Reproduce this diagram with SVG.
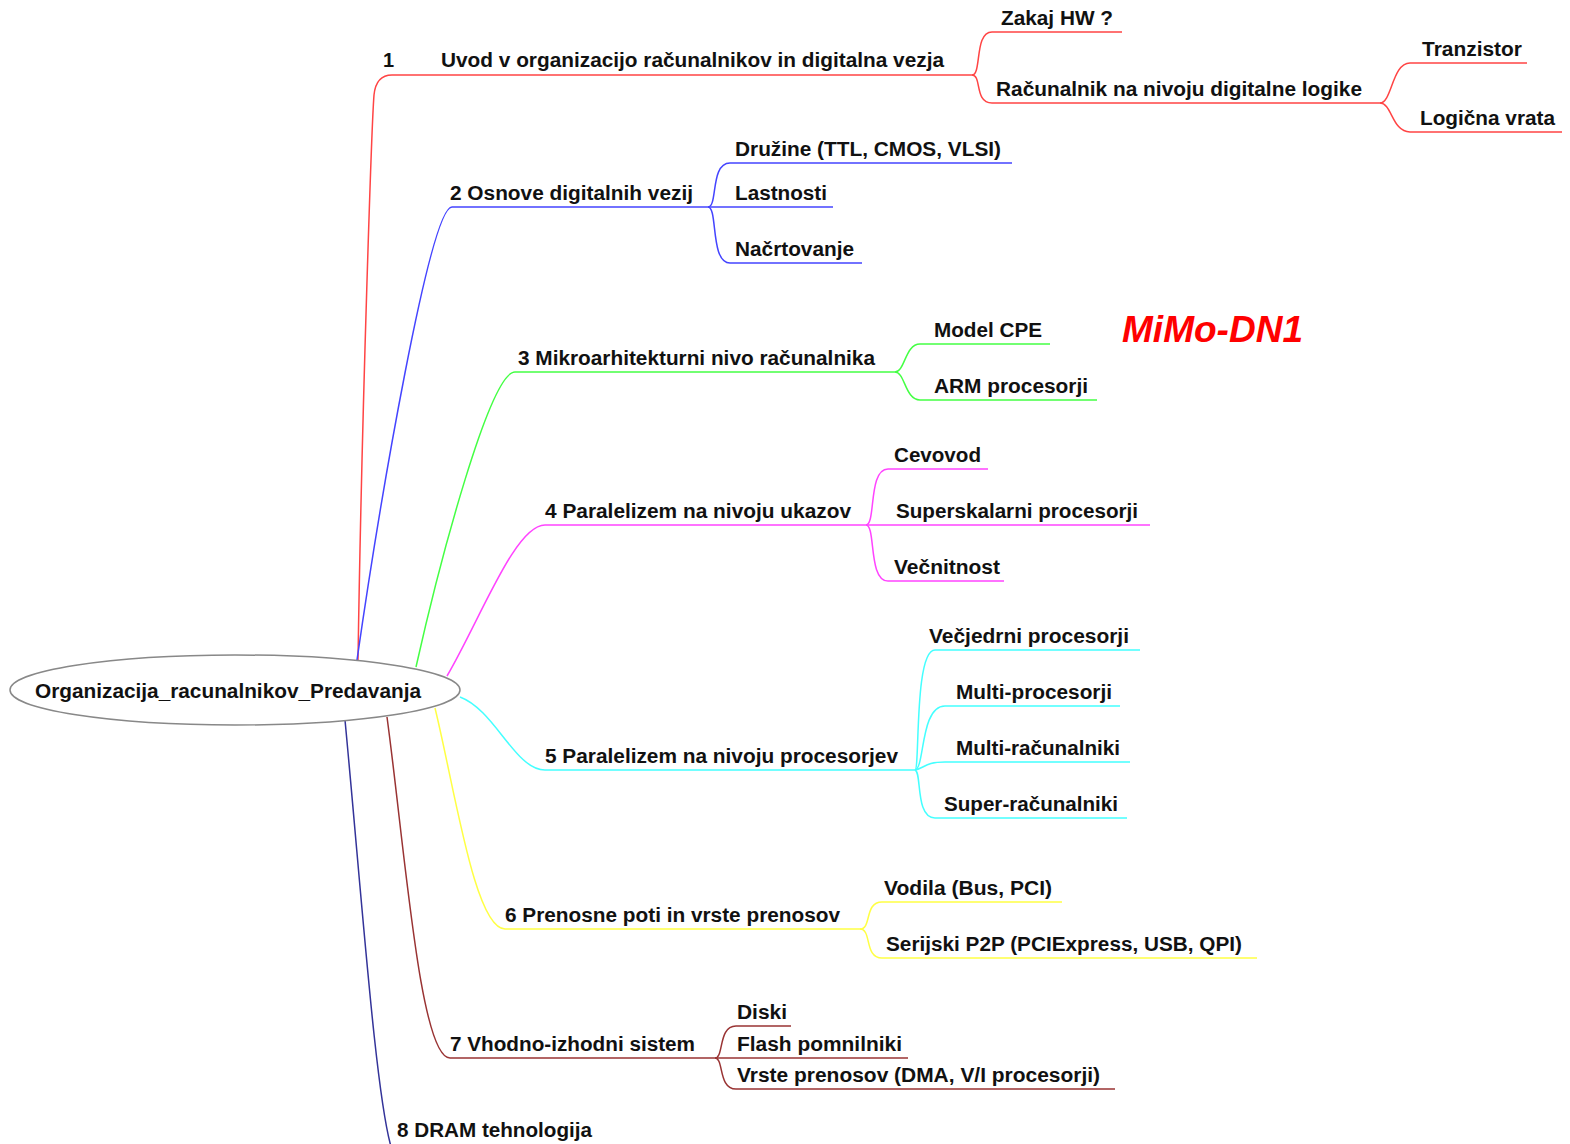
<svg xmlns="http://www.w3.org/2000/svg" width="1570" height="1144" viewBox="0 0 1570 1144">
<style>
text{font-family:"Liberation Sans",Arial,sans-serif;font-weight:bold;font-size:20px;fill:#111;}
.c path{fill:none;stroke-width:1.5;}
.r{stroke:#ff4444}.b{stroke:#4444ff}.g{stroke:#44ff44}.m{stroke:#ff44ff}.cy{stroke:#44ffff}.y{stroke:#ffff44}.dr{stroke:#993333}.nv{stroke:#333399}
.mimo{font-size:37px;font-style:italic;fill:#ff0000;}
</style>
<rect width="1570" height="1144" fill="#fff"/>
<g id="connectors" class="c">
<path class="r" d="M358,660 C362,400 372,120 374,95 Q376,75 392,75 L972,75"/>
<path class="r" d="M972,75 C982,75 974,32 992,32 L1122,32"/>
<path class="r" d="M972,75 C982,75 974,103 992,103 L1380,103"/>
<path class="r" d="M1380,103 C1392,103 1392,63 1410,63 L1527,63"/>
<path class="r" d="M1380,103 C1392,103 1392,132 1410,132 L1562,132"/>
<path class="b" d="M357,660 C380,500 430,207 452,207 L708,207"/>
<path class="b" d="M708,207 C718,207 710,163 730,163 L1012,163"/>
<path class="b" d="M708,207 L833,207"/>
<path class="b" d="M708,207 C718,207 710,263 730,263 L862,263"/>
<path class="g" d="M416,667 C440,560 490,372 515,372 L895,372"/>
<path class="g" d="M895,372 C905,372 905,344 920,344 L1050,344"/>
<path class="g" d="M895,372 C905,372 905,400 920,400 L1097,400"/>
<path class="m" d="M447,676 C480,620 515,525 545,525 L866,525"/>
<path class="m" d="M866,525 C876,525 868,469 888,469 L988,469"/>
<path class="m" d="M866,525 L1150,525"/>
<path class="m" d="M866,525 C876,525 868,581 888,581 L1004,581"/>
<path class="cy" d="M460,697 C495,710 515,770 545,770 L915,770"/>
<path class="cy" d="M915,770 C920,770 914,650 935,650 L1140,650"/>
<path class="cy" d="M915,770 C925,768 920,706 945,706 L1120,706"/>
<path class="cy" d="M915,770 C925,768 925,762 945,762 L1130,762"/>
<path class="cy" d="M915,770 C922,772 915,818 935,818 L1127,818"/>
<path class="y" d="M435,708 C455,790 475,929 505,929 L860,929"/>
<path class="y" d="M860,929 C872,929 864,902 882,902 L1062,902"/>
<path class="y" d="M860,929 C872,929 864,958 882,958 L1257,958"/>
<path class="dr" d="M387,717 C405,850 420,1058 450,1058 L715,1058"/>
<path class="dr" d="M715,1058 C724,1058 718,1026 736,1026 L791,1026"/>
<path class="dr" d="M715,1058 L908,1058"/>
<path class="dr" d="M715,1058 C724,1058 718,1089 736,1089 L1115,1089"/>
<path class="nv" d="M345,720 C362,900 376,1100 392,1150"/>
</g>
<g id="root">
<ellipse cx="235" cy="690" rx="225" ry="35" fill="#fff" stroke="#888" stroke-width="1.5"/>
<text x="35" y="698" textLength="386" lengthAdjust="spacingAndGlyphs">Organizacija_racunalnikov_Predavanja</text>
</g>
<g id="n1"><text x="383" y="67">1</text><text x="441" y="67" textLength="503" lengthAdjust="spacingAndGlyphs">Uvod v organizacijo računalnikov in digitalna vezja</text></g>
<g id="n1a"><text x="1001" y="25" textLength="112" lengthAdjust="spacingAndGlyphs">Zakaj HW ?</text></g>
<g id="n1b"><text x="996" y="96" textLength="366" lengthAdjust="spacingAndGlyphs">Računalnik na nivoju digitalne logike</text></g>
<g id="n1b1"><text x="1422" y="56" textLength="100" lengthAdjust="spacingAndGlyphs">Tranzistor</text></g>
<g id="n1b2"><text x="1420" y="125" textLength="135" lengthAdjust="spacingAndGlyphs">Logična vrata</text></g>
<g id="n2"><text x="450" y="200" textLength="243" lengthAdjust="spacingAndGlyphs">2 Osnove digitalnih vezij</text></g>
<g id="n2a"><text x="735" y="156" textLength="266" lengthAdjust="spacingAndGlyphs">Družine (TTL, CMOS, VLSI)</text></g>
<g id="n2b"><text x="735" y="200" textLength="92" lengthAdjust="spacingAndGlyphs">Lastnosti</text></g>
<g id="n2c"><text x="735" y="256" textLength="119" lengthAdjust="spacingAndGlyphs">Načrtovanje</text></g>
<g id="n3"><text x="518" y="365" textLength="357" lengthAdjust="spacingAndGlyphs">3 Mikroarhitekturni nivo računalnika</text></g>
<g id="n3a"><text x="934" y="337" textLength="108" lengthAdjust="spacingAndGlyphs">Model CPE</text></g>
<g id="n3b"><text x="934" y="393" textLength="154" lengthAdjust="spacingAndGlyphs">ARM procesorji</text></g>
<g id="label"><text class="mimo" x="1122" y="342" textLength="181" lengthAdjust="spacingAndGlyphs">MiMo-DN1</text></g>
<g id="n4"><text x="545" y="518" textLength="306" lengthAdjust="spacingAndGlyphs">4 Paralelizem na nivoju ukazov</text></g>
<g id="n4a"><text x="894" y="462" textLength="87" lengthAdjust="spacingAndGlyphs">Cevovod</text></g>
<g id="n4b"><text x="896" y="518" textLength="242" lengthAdjust="spacingAndGlyphs">Superskalarni procesorji</text></g>
<g id="n4c"><text x="894" y="574" textLength="106" lengthAdjust="spacingAndGlyphs">Večnitnost</text></g>
<g id="n5"><text x="545" y="763" textLength="353" lengthAdjust="spacingAndGlyphs">5 Paralelizem na nivoju procesorjev</text></g>
<g id="n5a"><text x="929" y="643" textLength="200" lengthAdjust="spacingAndGlyphs">Večjedrni procesorji</text></g>
<g id="n5b"><text x="956" y="699" textLength="156" lengthAdjust="spacingAndGlyphs">Multi-procesorji</text></g>
<g id="n5c"><text x="956" y="755" textLength="164" lengthAdjust="spacingAndGlyphs">Multi-računalniki</text></g>
<g id="n5d"><text x="944" y="811" textLength="174" lengthAdjust="spacingAndGlyphs">Super-računalniki</text></g>
<g id="n6"><text x="505" y="922" textLength="335" lengthAdjust="spacingAndGlyphs">6 Prenosne poti in vrste prenosov</text></g>
<g id="n6a"><text x="884" y="895" textLength="168" lengthAdjust="spacingAndGlyphs">Vodila (Bus, PCI)</text></g>
<g id="n6b"><text x="886" y="951" textLength="356" lengthAdjust="spacingAndGlyphs">Serijski P2P (PCIExpress, USB, QPI)</text></g>
<g id="n7"><text x="450" y="1051" textLength="245" lengthAdjust="spacingAndGlyphs">7 Vhodno-izhodni sistem</text></g>
<g id="n7a"><text x="737" y="1019" textLength="50" lengthAdjust="spacingAndGlyphs">Diski</text></g>
<g id="n7b"><text x="737" y="1051" textLength="165" lengthAdjust="spacingAndGlyphs">Flash pomnilniki</text></g>
<g id="n7c"><text x="737" y="1082" textLength="363" lengthAdjust="spacingAndGlyphs">Vrste prenosov (DMA, V/I procesorji)</text></g>
<g id="n8"><text x="397" y="1137" textLength="195" lengthAdjust="spacingAndGlyphs">8 DRAM tehnologija</text></g>
</svg>
